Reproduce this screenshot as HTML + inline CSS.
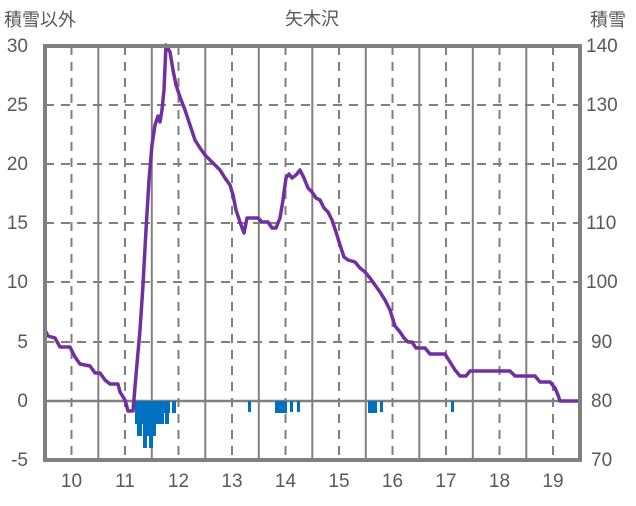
<!DOCTYPE html><html><head><meta charset="utf-8"><style>body{margin:0;background:#fff}svg text{font-family:"Liberation Sans","Noto Sans CJK JP",sans-serif;fill:#595959}</style></head><body>
<svg width="636" height="501" viewBox="0 0 636 501" xmlns="http://www.w3.org/2000/svg">
<g stroke="#808080" stroke-width="2" stroke-dasharray="9,7">
<line x1="45" x2="580" y1="105" y2="105"/><line x1="45" x2="580" y1="164" y2="164"/><line x1="45" x2="580" y1="223" y2="223"/><line x1="45" x2="580" y1="282" y2="282"/><line x1="45" x2="580" y1="342" y2="342"/>
<g id="d"><line x1="71.5" x2="71.5" y1="46" y2="460"/><line x1="125" x2="125" y1="46" y2="460"/><line x1="178.5" x2="178.5" y1="46" y2="460"/><line x1="232" x2="232" y1="46" y2="460"/><line x1="285.5" x2="285.5" y1="46" y2="460"/><line x1="339" x2="339" y1="46" y2="460"/><line x1="392.5" x2="392.5" y1="46" y2="460"/><line x1="446" x2="446" y1="46" y2="460"/><line x1="499.5" x2="499.5" y1="46" y2="460"/><line x1="553" x2="553" y1="46" y2="460"/></g>
</g>
<g stroke="#808080" stroke-width="2">
<line x1="98.3" x2="98.3" y1="46" y2="460"/><line x1="151.8" x2="151.8" y1="46" y2="460"/><line x1="205.3" x2="205.3" y1="46" y2="460"/><line x1="258.8" x2="258.8" y1="46" y2="460"/><line x1="312.3" x2="312.3" y1="46" y2="460"/><line x1="365.8" x2="365.8" y1="46" y2="460"/><line x1="419.3" x2="419.3" y1="46" y2="460"/><line x1="472.8" x2="472.8" y1="46" y2="460"/><line x1="526.3" x2="526.3" y1="46" y2="460"/>
<line x1="45" x2="580" y1="401" y2="401" stroke-width="2.5"/>
</g>
<g fill="#0070c0">
<rect x="135" y="401" width="25" height="23"/><rect x="137" y="401" width="5" height="35"/><rect x="143" y="401" width="4" height="47"/><rect x="149" y="401" width="4" height="47"/><rect x="147" y="401" width="9" height="35"/>
<rect x="160" y="401" width="4" height="23"/><rect x="165" y="401" width="4" height="23"/><rect x="161" y="401" width="9" height="12"/><rect x="172" y="401" width="4" height="12"/>
<rect x="248" y="401" width="3" height="11"/><rect x="275" y="401" width="12" height="12"/><rect x="290" y="401" width="3" height="11"/><rect x="297" y="401" width="3" height="11"/>
<rect x="368" y="401" width="9" height="12"/><rect x="380" y="401" width="3" height="11"/><rect x="451" y="401" width="3" height="11"/>
</g>
<polyline fill="none" stroke="#7030a0" stroke-width="3.5" stroke-linejoin="round" points="45,330 48,336 55,338 60,347 70,347 75,357 80,364 90,366 95,373 100,373 105,380 110,384 118,384 120,392 125,400 128,411 133,411 136,375 140,330 143,285 146,230 149,180 152,145 155,125 158,116 160,122 162,110 164,90 166,45 170,52 173,70 176,85 180,97 185,110 190,125 195,140 200,148 205,155 210,160 215,165 220,170 225,178 230,185 233,195 236,210 240,222 244,233 247,218 250,218 258,218 262,222 268,222 272,228 276,228 280,218 283,200 286,178 289,174 292,178 296,175 300,170 304,178 308,188 312,192 316,198 320,200 324,208 328,212 332,220 336,232 340,245 344,257 348,260 355,262 360,268 365,272 370,278 375,285 380,292 385,300 390,310 395,326 400,332 404,338 408,342 412,342 416,348 425,348 430,354 445,354 450,362 455,370 460,376 466,376 470,371 510,371 515,376 535,376 540,382 550,382 555,388 558,395 560,401 580,401"/>
<rect x="45" y="46" width="535" height="414" fill="none" stroke="#808080" stroke-width="4"/>
<g font-size="19" text-anchor="end">
<text x="28" y="52">30</text><text x="28" y="111">25</text><text x="28" y="170">20</text><text x="28" y="229">15</text><text x="28" y="288">10</text><text x="28" y="348">5</text><text x="28" y="407">0</text><text x="28" y="466">-5</text>
</g>
<g font-size="19" text-anchor="start">
<text x="586" y="52">140</text><text x="586" y="111">130</text><text x="586" y="170">120</text><text x="586" y="229">110</text><text x="586" y="288">100</text><text x="591" y="348">90</text><text x="591" y="407">80</text><text x="591" y="466">70</text>
</g>
<g font-size="19" text-anchor="middle">
<text x="71.5" y="487">10</text><text x="125" y="487">11</text><text x="178.5" y="487">12</text><text x="232" y="487">13</text><text x="285.5" y="487">14</text><text x="339" y="487">15</text><text x="392.5" y="487">16</text><text x="446" y="487">17</text><text x="499.5" y="487">18</text><text x="553" y="487">19</text>
<text x="312" y="25" font-size="18">矢木沢</text>
</g>
<text x="4" y="26" font-size="18">積雪以外</text>
<text x="590" y="26" font-size="18">積雪</text>
</svg></body></html>
